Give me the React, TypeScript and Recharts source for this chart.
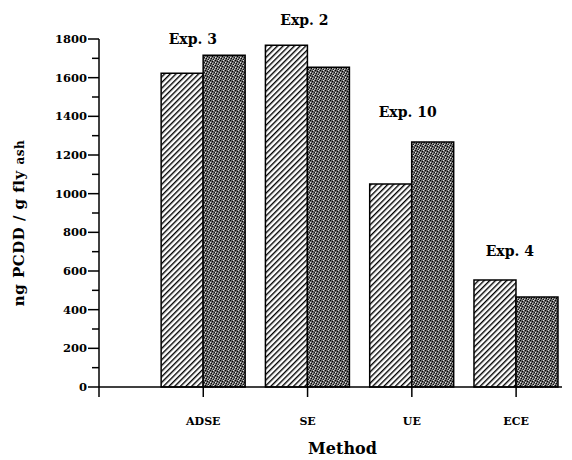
import React from 'react';
import { BarChart, Bar, XAxis, YAxis, ReferenceDot } from 'recharts';

// method categories, placed at x = 1..4 (x = 0 is the empty slot at the axis origin)
const methods = ['ADSE', 'SE', 'UE', 'ECE'];
const methodPos = [1, 2, 3, 4];
const hatchedValues = [1623, 1768, 1050, 553];
const dottedValues = [1716, 1654, 1267, 465];

// experiment annotations (data coords)
const expLabels = ['Exp. 3', 'Exp. 2', 'Exp. 10', 'Exp. 4'];
const expLabelX = [0.9, 1.97, 2.96, 3.94];
const expLabelY = [1800, 1897, 1422, 703];

const yTicks = [0, 100, 200, 300, 400, 500, 600, 700, 800, 900, 1000, 1100, 1200, 1300, 1400, 1500, 1600, 1700, 1800];
const xTicks = [0, 1, 2, 3, 4];

const data = methodPos.map((x, i) => ({
  x,
  name: methods[i],
  hatched: hatchedValues[i],
  dotted: dottedValues[i],
}));

const font = '"DejaVu Serif", serif';

const YTick = (props: any) => {
  const { x, y, payload } = props;
  const major = payload.value % 200 === 0;
  return (
    <g>
      <line x1={x - (major ? 11 : 7)} x2={x} y1={y} y2={y} stroke="#000" strokeWidth={1.5} />
      {major && (
        <text x={x - 12} y={y} dy="0.35em" textAnchor="end" fontSize={11.5} fontWeight="bold" fontFamily={font} fill="#000">
          {payload.value}
        </text>
      )}
    </g>
  );
};

const XTick = (props: any) => {
  const { x, y, payload } = props;
  const label = payload.value === 0 ? '' : methods[payload.value - 1];
  return (
    <text x={x} y={y} dy="0.71em" textAnchor="middle" fontSize={11} fontWeight="bold" fontFamily={font} fill="#000">
      {label}
    </text>
  );
};

const YLabel = (props: any) => {
  const { viewBox } = props;
  const cx = 19;
  const cy = viewBox.y + viewBox.height / 2 + 10;
  return (
    <text x={cx} y={cy} transform={`rotate(-90 ${cx} ${cy})`} textAnchor="middle" dy="0.35em" fontSize={15} fontWeight="bold" fontFamily={font} fill="#000" letterSpacing={0.5}>
      ng PCDD / g fly <tspan fontSize={12}>ash</tspan>
    </text>
  );
};

export default function App() {
  return (
    <div style={{ position: 'absolute', left: 0, top: 0, background: '#fff' }}>
      <BarChart
        width={572}
        height={460}
        data={data}
        margin={{ top: 39, right: 10, left: 0, bottom: 0 }}
        barSize={42}
        barGap={0}
      >
        <defs>
          <pattern id="hatch" patternUnits="userSpaceOnUse" width="4" height="4" patternTransform="rotate(45)">
            <rect width="4" height="4" fill="#fff" />
            <line x1="0" y1="0" x2="0" y2="4" stroke="#000" strokeWidth="2.8" />
          </pattern>
          <pattern id="stipple" patternUnits="userSpaceOnUse" width="5" height="5">
            <rect width="5" height="5" fill="#666" />
            <rect x="0" y="0" width="1" height="1" fill="#000" />
            <rect x="2" y="1" width="1" height="1" fill="#000" />
            <rect x="4" y="2" width="1" height="1" fill="#111" />
            <rect x="1" y="3" width="1" height="1" fill="#000" />
            <rect x="3" y="4" width="1" height="1" fill="#111" />
            <rect x="3" y="0" width="1" height="1" fill="#ddd" />
            <rect x="0" y="2" width="1" height="1" fill="#e6e6e6" />
            <rect x="2" y="3" width="1" height="1" fill="#bbb" />
            <rect x="4" y="4" width="1" height="1" fill="#ccc" />
          </pattern>
        </defs>
        <XAxis
          type="number"
          dataKey="x"
          scale="linear"
          domain={[0, 4.44]}
          ticks={xTicks}
          interval={0}
          height={73}
          tickSize={10}
          tickMargin={20}
          tick={<XTick />}
          axisLine={{ stroke: '#000', strokeWidth: 1.5 }}
          tickLine={{ stroke: '#000', strokeWidth: 1.5 }}
          label={{ value: 'Method', position: 'insideBottom', offset: 6, dx: 12, fontSize: 16, fontWeight: 'bold', fontFamily: font, fill: '#000' }}
        />
        <YAxis
          type="number"
          domain={[0, 1800]}
          ticks={yTicks}
          interval={0}
          width={99}
          tickSize={0}
          tickMargin={0}
          tick={<YTick />}
          axisLine={{ stroke: '#000', strokeWidth: 1.5 }}
          tickLine={false}
          label={(p: any) => <YLabel {...p} />}
        />
        <Bar dataKey="hatched" fill="url(#hatch)" stroke="#000" strokeWidth={1.5} isAnimationActive={false} />
        <Bar dataKey="dotted" fill="url(#stipple)" stroke="#000" strokeWidth={1.5} isAnimationActive={false} />
        {expLabels.map((t, i) => (
          <ReferenceDot
            key={t}
            x={expLabelX[i]}
            y={expLabelY[i]}
            r={0}
            ifOverflow="visible"
            fill="none"
            stroke="none"
            label={{ value: t, position: 'center', fontSize: 14, fontWeight: 'bold', fontFamily: font, fill: '#000' }}
          />
        ))}
      </BarChart>
    </div>
  );
}
